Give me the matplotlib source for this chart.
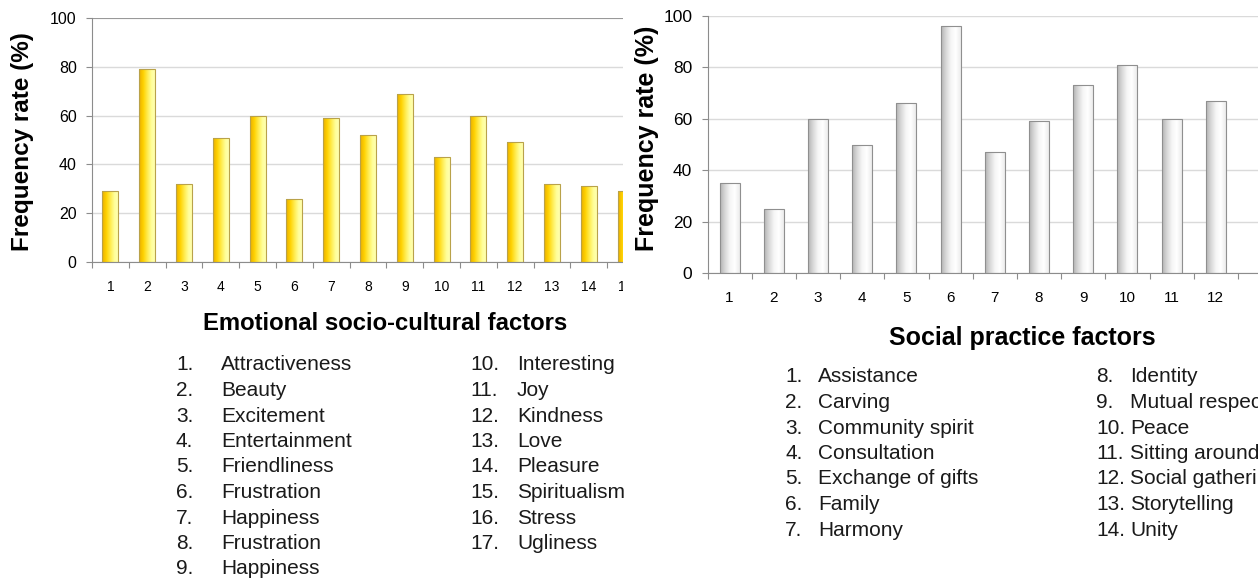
import numpy as np
import matplotlib
matplotlib.use("Agg")
import matplotlib.pyplot as plt
from matplotlib.colors import LinearSegmentedColormap
from matplotlib.patches import Rectangle

plt.rcParams['font.family'] = ['Liberation Sans', 'DejaVu Sans']

# emotional socio-cultural factors (the figure is cropped, only 1..15 show)
emo_ids = list(range(1, 16))
emo_vals = [29, 79, 32, 51, 60, 26, 59, 52, 69, 43, 60, 49, 32, 31, 29]
emo_names = ["Attractiveness", "Beauty", "Excitement", "Entertainment",
             "Friendliness", "Frustration", "Happiness", "Frustration",
             "Happiness", "Interesting", "Joy", "Kindness", "Love",
             "Pleasure", "Spiritualism", "Stress", "Ugliness"]

# social practice factors (1..12 visible)
soc_ids = list(range(1, 13))
soc_vals = [35, 25, 60, 50, 66, 96, 47, 59, 73, 81, 60, 67]
soc_names = ["Assistance", "Carving", "Community spirit", "Consultation",
             "Exchange of gifts", "Family", "Harmony", "Identity",
             "Mutual respect", "Peace", "Sitting around the fire",
             "Social gathering", "Storytelling", "Unity"]

W, H = 1258, 581
fig = plt.figure(figsize=(W / 100, H / 100), dpi=100)


def box(x0, y0, x1, y1):
    # pixel box, origin top-left -> figure rect
    return [x0 / W, 1 - y1 / H, (x1 - x0) / W, (y1 - y0) / H]


def fx(x):
    return x / W


def fy(y):
    return 1 - y / H


yellow = LinearSegmentedColormap.from_list(
    "yel", ["#E9AE00", "#FFD200", "#FFEC50", "#FFFF9C", "#FFFFB4"])
silver = LinearSegmentedColormap.from_list(
    "sil", ["#B4B4B4", "#D8D8D8", "#F6F6F6", "#FFFFFF", "#ECECEC"])


def draw_chart(ax, ids, vals, xmax, cmap, edge, bw, topcol, ytick_fs, xtick_fs, xpad):
    bars = ax.bar(ids, vals, width=bw, facecolor="none", edgecolor=edge,
                  linewidth=0.8, zorder=3)
    grad = np.linspace(0, 1, 64).reshape(1, -1)
    for b in bars:
        x, w, h = b.get_x(), b.get_width(), b.get_height()
        im = ax.imshow(grad, extent=[x, x + w, 0, h], aspect="auto",
                       cmap=cmap, zorder=2.5, interpolation="bilinear")
        im.set_clip_path(b)
    ax.set_yticks([0, 20, 40, 60, 80, 100])
    ax.yaxis.grid(True, color="#DADADA", linewidth=1)
    ax.set_axisbelow(True)
    ax.axhline(100, color=topcol, linewidth=1.2, zorder=1)
    for s in ["top", "right"]:
        ax.spines[s].set_visible(False)
    for s in ["left", "bottom"]:
        ax.spines[s].set_color("#8C8C8C")
    ax.set_xticks(np.arange(0.5, xmax, 1.0))
    ax.set_xticklabels([])
    ax.set_xticks(ids, [str(i) for i in ids], minor=True)
    ax.tick_params(axis="x", which="major", direction="out", length=4,
                   color="#8C8C8C")
    ax.tick_params(axis="x", which="minor", length=0, pad=xpad,
                   labelsize=xtick_fs)
    ax.tick_params(axis="y", direction="out", length=4, color="#8C8C8C",
                   pad=7, labelsize=ytick_fs)
    # limits last, tick setters would widen them
    ax.set_xlim(0.5, xmax)
    ax.set_ylim(0, 100)


# left chart
ax1 = fig.add_axes(box(92, 18, 660, 262), zorder=0)
draw_chart(ax1, emo_ids, emo_vals, 0.5 + (660 - 92) / 36.8, yellow,
           "#B9A24A", 0.44, "#8C8C8C", 11.5, 10, 13)

# white mask where the right chart covers the left one
fig.add_artist(Rectangle((fx(623), fy(312)), fx(706) - fx(623), 312 / H,
                         transform=fig.transFigure, facecolor="white",
                         edgecolor="none", zorder=1))

# right chart
ax2 = fig.add_axes(box(707.5, 16, 1330, 273), zorder=2)
draw_chart(ax2, soc_ids, soc_vals, 0.5 + (1330 - 707.5) / 44.2, silver,
           "#8F8F8F", 0.45, "#DADADA", 12.5, 11, 13)

# axis titles
fig.text(fx(23), fy(142), "Frequency rate (%)", rotation=90, fontsize=17.5,
         fontweight="bold", ha="center", va="center")
fig.text(fx(385), fy(323), "Emotional socio-cultural factors", fontsize=17.2,
         fontweight="bold", ha="center", va="center")
fig.text(fx(647), fy(138), "Frequency rate (%)", rotation=90, fontsize=18,
         fontweight="bold", ha="center", va="center", zorder=3)
fig.text(fx(1022), fy(338), "Social practice factors", fontsize=18,
         fontweight="bold", ha="center", va="center")

# left legend
lg = dict(fontsize=15, color="#1A1A1A", va="center", ha="left")
for k, name in enumerate(emo_names):
    if k < 9:
        y = 365 + 25.5 * k
        fig.text(fx(176), fy(y), f"{k + 1}.", **lg)
        fig.text(fx(221), fy(y), name, **lg)
    else:
        y = 365 + 25.5 * (k - 9)
        fig.text(fx(470), fy(y), f"{k + 1}.", **lg)
        fig.text(fx(517), fy(y), name, **lg)

# right legend
for k, name in enumerate(soc_names):
    if k < 7:
        y = 377 + 25.5 * k
        fig.text(fx(785), fy(y), f"{k + 1}.", **lg)
        fig.text(fx(818), fy(y), name, **lg)
    else:
        y = 377 + 25.5 * (k - 7)
        fig.text(fx(1096), fy(y), f"{k + 1}.", **lg)
        fig.text(fx(1130), fy(y), name, **lg)

fig.savefig("out.png", dpi=100)
